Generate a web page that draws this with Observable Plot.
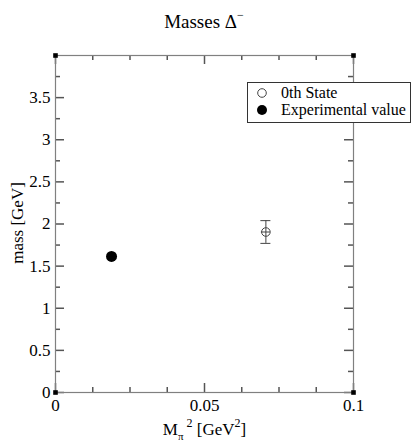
<!DOCTYPE html>
<html><head><meta charset="utf-8">
<script src="https://cdn.jsdelivr.net/npm/d3@7"></script>
<script src="https://cdn.jsdelivr.net/npm/@observablehq/plot@0.6"></script>
<style>body{margin:0;background:#fff} svg{display:block}</style>
</head><body><div id="chart"></div>
<script>
// ---- data ----
const xDomain = [0, 0.1];
const yDomain = [0, 4];
const xMajorTicks = [0, 0.05, 0.1];
const xMinorTicks = [0.0125, 0.025, 0.0375, 0.0625, 0.075, 0.0875];
const yMajorTicks = [0, 0.5, 1, 1.5, 2, 2.5, 3, 3.5];
const yMinorTicks = [0.25, 0.75, 1.25, 1.75, 2.25, 2.75, 3.25, 3.75];
const stateMpi2 = [0.0706];
const stateMass = [1.905];
const stateErr = [0.135];
const expMpi2 = [0.0188];
const expMass = [1.615];
const legendLabels = ["0th State", "Experimental value"];

const stateData = stateMpi2.map((x, i) => ({x, y: stateMass[i], e: stateErr[i]}));
const expData = expMpi2.map((x, i) => ({x, y: expMass[i]}));
const corners = [
  {x: xDomain[0], y: yDomain[0]}, {x: xDomain[1], y: yDomain[0]},
  {x: xDomain[0], y: yDomain[1]}, {x: xDomain[1], y: yDomain[1]}
];

const W = 415, H = 442, ML = 55, MR = 62, MT = 55, MB = 50;
const FW = W - ML - MR, FH = H - MT - MB;
const axisColor = "#808080";
const font = "Liberation Serif, Times New Roman, serif";
const tk = {stroke: "#555", strokeWidth: 1.5};
// tick lengths in pixels converted to data units
const dy = px => (yDomain[1] - yDomain[0]) * px / FH;
const dx = px => (xDomain[1] - xDomain[0]) * px / FW;
function xt(ticks, px) {
  return [
    Plot.ruleX(ticks, {x: d => d, y1: yDomain[0], y2: yDomain[0] + dy(px), ...tk}),
    Plot.ruleX(ticks, {x: d => d, y1: yDomain[1] - dy(px), y2: yDomain[1], ...tk})
  ];
}
function yt(ticks, px) {
  return [
    Plot.ruleY(ticks, {y: d => d, x1: xDomain[0], x2: xDomain[0] + dx(px), ...tk}),
    Plot.ruleY(ticks, {y: d => d, x1: xDomain[1] - dx(px), x2: xDomain[1], ...tk})
  ];
}

const svg = Plot.plot({
  width: W,
  height: H,
  marginLeft: ML,
  marginRight: MR,
  marginTop: MT,
  marginBottom: MB,
  style: {fontFamily: font, background: "#fff"},
  x: {domain: xDomain},
  y: {domain: yDomain},
  marks: [
    ...xt(xMajorTicks, 9),
    ...xt(xMinorTicks, 5),
    ...yt(yMajorTicks, 9),
    ...yt(yMinorTicks, 5),
    Plot.axisX({anchor: "bottom", ticks: xMajorTicks, tickSize: 0, tickPadding: 6, tickFormat: d => String(d), label: null, fontSize: 17, fill: "#000"}),
    Plot.axisY({anchor: "left", ticks: yMajorTicks, tickSize: 0, tickPadding: 5, tickFormat: d => String(d), label: null, fontSize: 17, fill: "#000"}),
    Plot.frame({stroke: axisColor, strokeWidth: 1.2}),
    Plot.dot(corners, {x: "x", y: "y", symbol: "square", r: 2.6, fill: "#000"}),
    // error bars for state
    Plot.ruleX(stateData, {x: "x", y1: d => d.y - d.e, y2: d => d.y + d.e, stroke: "#444"}),
    Plot.ruleY(stateData, {y: d => d.y + d.e, x1: "x", x2: "x", insetLeft: -5, insetRight: -5, stroke: "#444"}),
    Plot.ruleY(stateData, {y: d => d.y - d.e, x1: "x", x2: "x", insetLeft: -5, insetRight: -5, stroke: "#444"}),
    Plot.ruleY(stateData, {y: "y", x1: "x", x2: "x", insetLeft: -4.5, insetRight: -4.5, stroke: "#444"}),
    Plot.dot(stateData, {x: "x", y: "y", r: 4.3, stroke: "#444", fill: "none", strokeWidth: 1}),
    Plot.dot(expData, {x: "x", y: "y", r: 5.5, fill: "#000"})
  ]
});

document.getElementById("chart").appendChild(svg);

const s = d3.select(svg);
// title
const t = s.append("text").attr("x", 204).attr("y", 28).attr("text-anchor", "middle")
  .attr("font-family", font).attr("font-size", 19).attr("fill", "#000");
t.append("tspan").text("Masses Δ");
t.append("tspan").attr("dy", -9).attr("font-size", 12).text("−");

// y label
s.append("text").attr("transform", "translate(23,223) rotate(-90)").attr("text-anchor", "middle")
  .attr("font-family", font).attr("font-size", 17).attr("fill", "#000").text("mass [GeV]");

// x label
const xl = s.append("text").attr("x", 204.5).attr("y", 435).attr("text-anchor", "middle")
  .attr("font-family", font).attr("font-size", 17).attr("fill", "#000");
xl.append("tspan").text("M");
xl.append("tspan").attr("dy", 5).attr("font-size", 11).text("π");
xl.append("tspan").attr("dy", -13).attr("font-size", 12).text(" 2");
xl.append("tspan").attr("dy", 8).text(" [GeV");
xl.append("tspan").attr("dy", -8).attr("font-size", 12).text("2");
xl.append("tspan").attr("dy", 8).text("]");

// legend
const lg = s.append("g");
lg.append("rect").attr("x", 247.5).attr("y", 82.5).attr("width", 163).attr("height", 40)
  .attr("fill", "#fff").attr("stroke", "#333");
lg.append("circle").attr("cx", 262).attr("cy", 93).attr("r", 4.3).attr("fill", "none").attr("stroke", "#444");
lg.append("circle").attr("cx", 262).attr("cy", 110).attr("r", 5).attr("fill", "#000");
lg.selectAll("text.lab").data(legendLabels).join("text").attr("class", "lab")
  .attr("x", 281).attr("y", (d, i) => 98 + i * 17).attr("text-anchor", "start")
  .attr("font-family", font).attr("font-size", 16).attr("fill", "#000").text(d => d);
</script>
</body></html>
